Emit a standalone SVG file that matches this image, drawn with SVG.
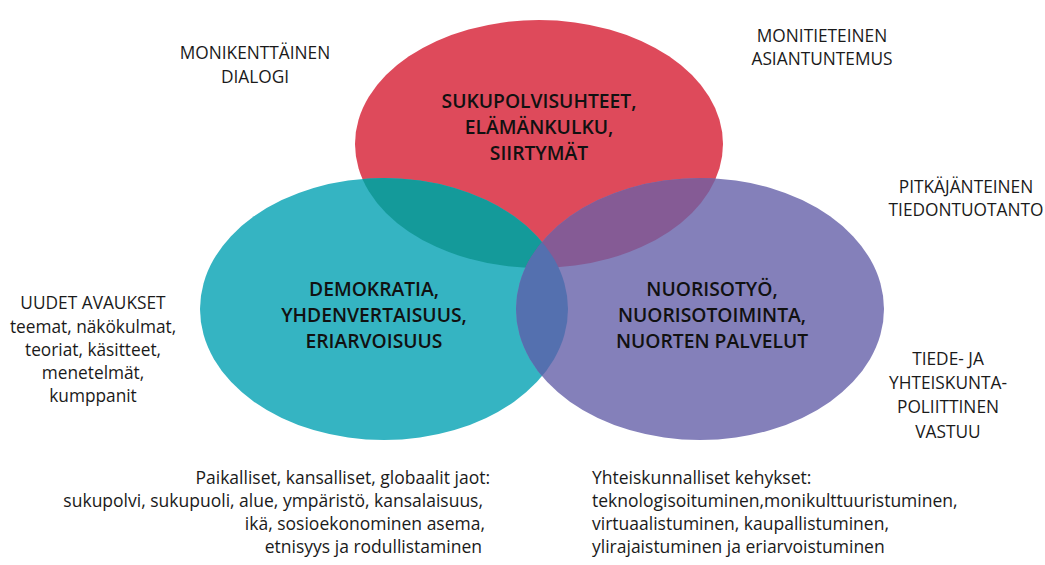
<svg xmlns="http://www.w3.org/2000/svg" width="1045" height="565" viewBox="0 0 1045 565">
<style>
.lbl{font-family:"Open Sans","Noto Sans",sans-serif;font-weight:600;font-size:19.3px;fill:#111;text-anchor:middle}
.out{font-family:"Open Sans","Noto Sans",sans-serif;font-size:17.3px;fill:#1a1a1a;text-anchor:middle}
.low{font-family:"Open Sans","Noto Sans",sans-serif;font-size:17.5px;fill:#1a1a1a}
</style>
<defs>
<clipPath id="cRed"><ellipse cx="539" cy="144" rx="184" ry="124"/></clipPath>
<clipPath id="cTeal"><ellipse cx="384" cy="309" rx="184" ry="131"/></clipPath>
</defs>
<rect width="1045" height="565" fill="#fff"/>
<g id="shapes">
<ellipse id="red" cx="539" cy="144" rx="184" ry="124" fill="#DE4A5B"/>
<ellipse id="teal" cx="384" cy="309" rx="184" ry="131" fill="#35B4C2"/>
<ellipse id="purple" cx="700" cy="309" rx="184" ry="131" fill="#8480BA"/>
<ellipse cx="384" cy="309" rx="184" ry="131" fill="#149A9A" clip-path="url(#cRed)"/>
<ellipse cx="700" cy="309" rx="184" ry="131" fill="#855B95" clip-path="url(#cRed)"/>
<ellipse cx="700" cy="309" rx="184" ry="131" fill="#5470AF" clip-path="url(#cTeal)"/>
</g>
<g id="node-red">
<text class="lbl" x="539" y="108">SUKUPOLVISUHTEET,</text>
<text class="lbl" x="539" y="134">ELÄMÄNKULKU,</text>
<text class="lbl" x="539" y="160">SIIRTYMÄT</text>
</g>
<g id="node-teal">
<text class="lbl" x="374" y="296">DEMOKRATIA,</text>
<text class="lbl" x="374" y="322">YHDENVERTAISUUS,</text>
<text class="lbl" x="374" y="348">ERIARVOISUUS</text>
</g>
<g id="node-purple">
<text class="lbl" x="712" y="296">NUORISOTYÖ,</text>
<text class="lbl" x="712" y="322">NUORISOTOIMINTA,</text>
<text class="lbl" x="712" y="348">NUORTEN PALVELUT</text>
</g>
<g id="note-monikenttainen">
<text class="out" x="255" y="59">MONIKENTTÄINEN</text>
<text class="out" x="255" y="83">DIALOGI</text>
</g>
<g id="note-monitieteinen">
<text class="out" x="822" y="42">MONITIETEINEN</text>
<text class="out" x="822" y="65">ASIANTUNTEMUS</text>
</g>
<g id="note-pitkajanteinen">
<text class="out" x="966" y="193">PITKÄJÄNTEINEN</text>
<text class="out" x="966" y="216">TIEDONTUOTANTO</text>
</g>
<g id="note-uudet">
<text class="out" x="93" y="309">UUDET AVAUKSET</text>
<text class="out" x="93" y="333">teemat, näkökulmat,</text>
<text class="out" x="93" y="356">teoriat, käsitteet,</text>
<text class="out" x="93" y="379">menetelmät,</text>
<text class="out" x="93" y="402">kumppanit</text>
</g>
<g id="note-tiede">
<text class="out" x="948" y="365">TIEDE- JA</text>
<text class="out" x="948" y="389">YHTEISKUNTA-</text>
<text class="out" x="948" y="413">POLIITTINEN</text>
<text class="out" x="948" y="438">VASTUU</text>
</g>
<g id="note-paikalliset">
<text class="low" x="490" y="484" text-anchor="end">Paikalliset, kansalliset, globaalit jaot:</text>
<text class="low" x="483" y="507" text-anchor="end">sukupolvi, sukupuoli, alue, ympäristö, kansalaisuus,</text>
<text class="low" x="485" y="530" text-anchor="end">ikä, sosioekonominen asema,</text>
<text class="low" x="482" y="553" text-anchor="end">etnisyys ja rodullistaminen</text>
</g>
<g id="note-yhteiskunnalliset">
<text class="low" x="592" y="484">Yhteiskunnalliset kehykset:</text>
<text class="low" x="592" y="507">teknologisoituminen,monikulttuuristuminen,</text>
<text class="low" x="592" y="530">virtuaalistuminen, kaupallistuminen,</text>
<text class="low" x="592" y="553">ylirajaistuminen ja eriarvoistuminen</text>
</g>
<g id="connectors"/>
</svg>
